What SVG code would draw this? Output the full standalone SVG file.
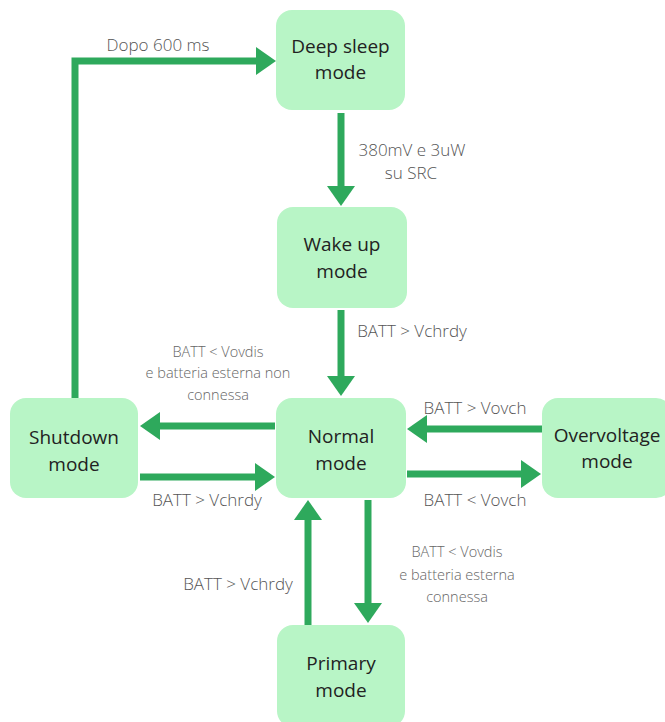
<svg xmlns="http://www.w3.org/2000/svg" width="665" height="722" viewBox="0 0 665 722">
<style>
.box{fill:#b8f5c6}
.nt{font-family:"Open Sans","Liberation Sans",sans-serif;font-size:19px;fill:#222;text-anchor:middle}
.lb{font-family:"Open Sans","Liberation Sans",sans-serif;font-size:17px;font-weight:300;fill:#555;text-anchor:middle}
.sl{font-family:"Open Sans","Liberation Sans",sans-serif;font-size:14.5px;font-weight:300;fill:#666;text-anchor:middle}
.c{stroke:#2ea95c;stroke-width:7;fill:none}
.h{fill:#2ea95c}
</style>
<rect width="665" height="722" fill="#fff"/>
<g id="connectors">
<path class="c" d="M75,398 V61 H258"/>
<polygon class="h" points="256,47 276,61 256,75"/>
<path class="c" d="M341,113 V188"/>
<polygon class="h" points="327,186 355,186 341,206"/>
<path class="c" d="M341,310 V378"/>
<polygon class="h" points="327,376 355,376 341,396"/>
<path class="c" d="M275,426 H158"/>
<polygon class="h" points="160,412 160,440 140,426"/>
<path class="c" d="M140,477 H257"/>
<polygon class="h" points="255,463 255,491 275,477"/>
<path class="c" d="M542,429 H425"/>
<polygon class="h" points="427,415 427,443 407,429"/>
<path class="c" d="M407,474 H523"/>
<polygon class="h" points="521,460 521,488 541,474"/>
<path class="c" d="M308,625 V518"/>
<polygon class="h" points="294,520 322,520 308,500"/>
<path class="c" d="M368,500 V605"/>
<polygon class="h" points="354,603 382,603 368,623"/>
</g>
<g id="labels">
<text class="lb" x="158" y="51">Dopo 600 ms</text>
<text class="lb" x="412" y="156">380mV e 3uW</text>
<text class="lb" x="411" y="179">su SRC</text>
<text class="lb" x="412" y="337">BATT &gt; Vchrdy</text>
<text class="sl" x="218" y="357">BATT &lt; Vovdis</text>
<text class="sl" x="218" y="378">e batteria esterna non</text>
<text class="sl" x="218" y="400">connessa</text>
<text class="lb" x="207" y="506">BATT &gt; Vchrdy</text>
<text class="lb" x="475" y="414">BATT &gt; Vovch</text>
<text class="lb" x="475" y="506">BATT &lt; Vovch</text>
<text class="lb" x="238" y="590">BATT &gt; Vchrdy</text>
<text class="sl" x="457" y="557">BATT &lt; Vovdis</text>
<text class="sl" x="457" y="580">e batteria esterna</text>
<text class="sl" x="457" y="602">connessa</text>
</g>
<g id="deep-sleep">
<rect class="box" x="276" y="10" width="129" height="100" rx="16"/>
<text class="nt" x="340.5" y="53">Deep sleep</text>
<text class="nt" x="340.5" y="79">mode</text>
</g>
<g id="wake-up">
<rect class="box" x="277" y="207" width="130" height="101" rx="16"/>
<text class="nt" x="342" y="251">Wake up</text>
<text class="nt" x="342" y="278">mode</text>
</g>
<g id="normal">
<rect class="box" x="276" y="398" width="130" height="100" rx="16"/>
<text class="nt" x="341" y="443">Normal</text>
<text class="nt" x="341" y="470">mode</text>
</g>
<g id="shutdown">
<rect class="box" x="10" y="398" width="128" height="100" rx="16"/>
<text class="nt" x="74" y="444">Shutdown</text>
<text class="nt" x="74" y="471">mode</text>
</g>
<g id="overvoltage">
<rect class="box" x="542" y="398" width="130" height="100" rx="16"/>
<text class="nt" x="607" y="442">Overvoltage</text>
<text class="nt" x="607" y="468">mode</text>
</g>
<g id="primary">
<rect class="box" x="277" y="625" width="128" height="102" rx="16"/>
<text class="nt" x="341" y="670">Primary</text>
<text class="nt" x="341" y="697">mode</text>
</g>
</svg>
